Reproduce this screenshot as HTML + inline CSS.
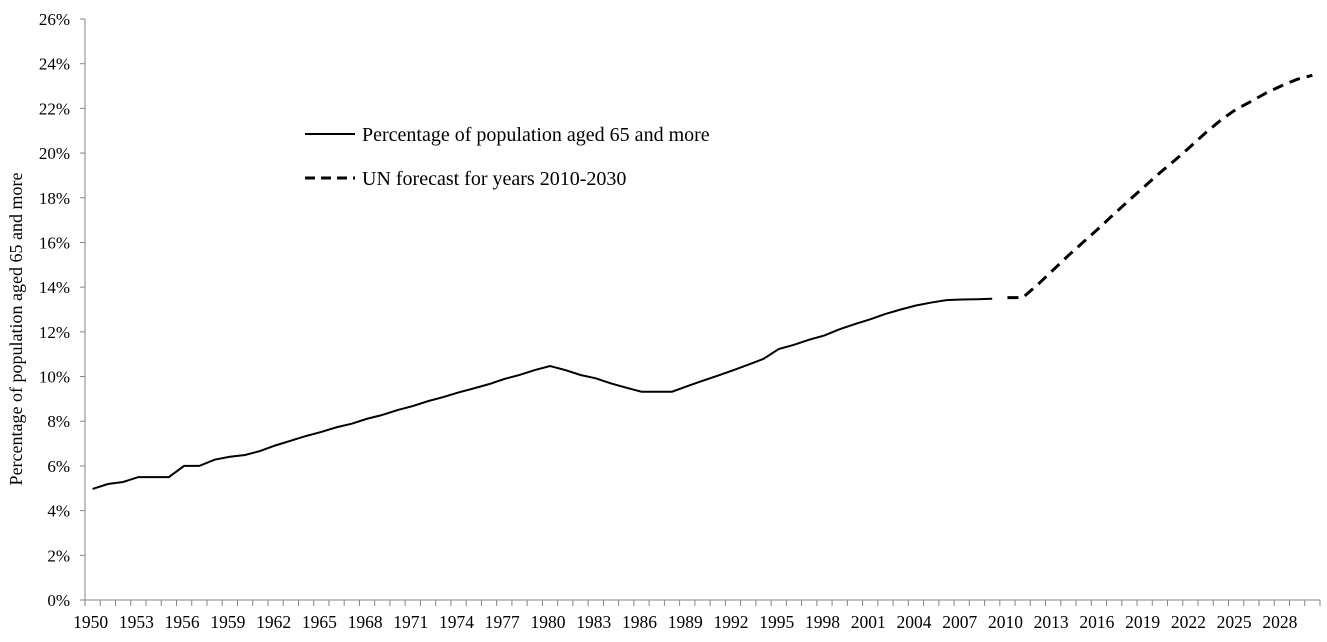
<!DOCTYPE html>
<html><head><meta charset="utf-8"><style>
body{margin:0;background:#fff}
svg{display:block;font-family:"Liberation Serif",serif}
</style></head><body>
<svg id="chart" width="1327" height="642" viewBox="0 0 1327 642">
<text transform="translate(22,329) rotate(-90)" text-anchor="middle" font-size="18">Percentage of population aged 65 and more</text>
<g id="axes"></g><g id="series"></g>
<g>
<line x1="305" y1="134" x2="355" y2="134" stroke="#000" stroke-width="2"/>
<text x="362" y="141" font-size="20">Percentage of population aged 65 and more</text>
<line x1="305" y1="178" x2="355" y2="178" stroke="#000" stroke-width="3" stroke-dasharray="10,6"/>
<text x="362" y="185" font-size="20">UN forecast for years 2010-2030</text>
</g>
</svg>
<script>
const actualYears=[];for(let y=1950;y<=2009;y++)actualYears.push(y);
const actualValues=[4.97,5.19,5.28,5.5,5.5,5.5,6.0,6.0,6.28,6.41,6.49,6.67,6.92,7.13,7.34,7.52,7.73,7.89,8.11,8.28,8.5,8.68,8.9,9.08,9.29,9.47,9.66,9.89,10.07,10.29,10.47,10.29,10.07,9.92,9.69,9.5,9.32,9.32,9.32,9.57,9.81,10.04,10.28,10.53,10.79,11.23,11.42,11.65,11.84,12.12,12.35,12.56,12.8,13.0,13.18,13.31,13.42,13.45,13.46,13.48];
const forecastYears=[];for(let y=2010;y<=2030;y++)forecastYears.push(y);
const forecastValues=[13.53,13.53,14.12,14.77,15.42,16.03,16.64,17.28,17.9,18.51,19.12,19.69,20.29,20.91,21.48,21.96,22.32,22.7,23.02,23.3,23.48];
const yTicks=[0,2,4,6,8,10,12,14,16,18,20,22,24,26];
const firstYear=1950,lastYear=2030;
const L=85,R=1320,B=600,T=19;
const step=(R-L)/(lastYear-firstYear+1);
const xs=y=>L+step*(y-firstYear+0.5);
const ys=v=>B-(v/26)*(B-T);
const NS='http://www.w3.org/2000/svg';
const axes=document.getElementById('axes'),ser=document.getElementById('series');
function mk(t,a,p){const e=document.createElementNS(NS,t);for(const k in a)e.setAttribute(k,a[k]);p.appendChild(e);return e;}
let e=mk('line',{x1:L,y1:T,x2:L,y2:B,stroke:'#868686'},axes);


e=mk('line',{x1:L,y1:B,x2:R,y2:B,stroke:'#868686'},axes);


yTicks.forEach(v=>{
 const t=mk('line',{x1:L-5,y1:ys(v),x2:L,y2:ys(v),stroke:'#868686'},axes);
 
 
 const l=mk('text',{x:L-15,y:ys(v)+6,'text-anchor':'end','font-size':'17'},axes);
 l.textContent=v+'%';
 
 
});
for(let y=firstYear;y<=lastYear+1;y++){
 const x=L+step*(y-firstYear);
 const t=mk('line',{x1:x,y1:B,x2:x,y2:B+6,stroke:'#868686'},axes);
 
 
}
for(let y=firstYear;y<=lastYear;y+=3){
 const l=mk('text',{x:xs(y)-2,y:628,'text-anchor':'middle','font-size':'17.5'},axes);
 l.textContent=y;
 
 
}
const p1=mk('polyline',{points:actualYears.map((y,i)=>xs(y)+','+ys(actualValues[i])).join(' '),fill:'none',stroke:'#000','stroke-width':2},ser);


const p2=mk('polyline',{points:forecastYears.map((y,i)=>xs(y)+','+ys(forecastValues[i])).join(' '),fill:'none',stroke:'#000','stroke-width':3,'stroke-dasharray':'11,7'},ser);


</script>
</body></html>
